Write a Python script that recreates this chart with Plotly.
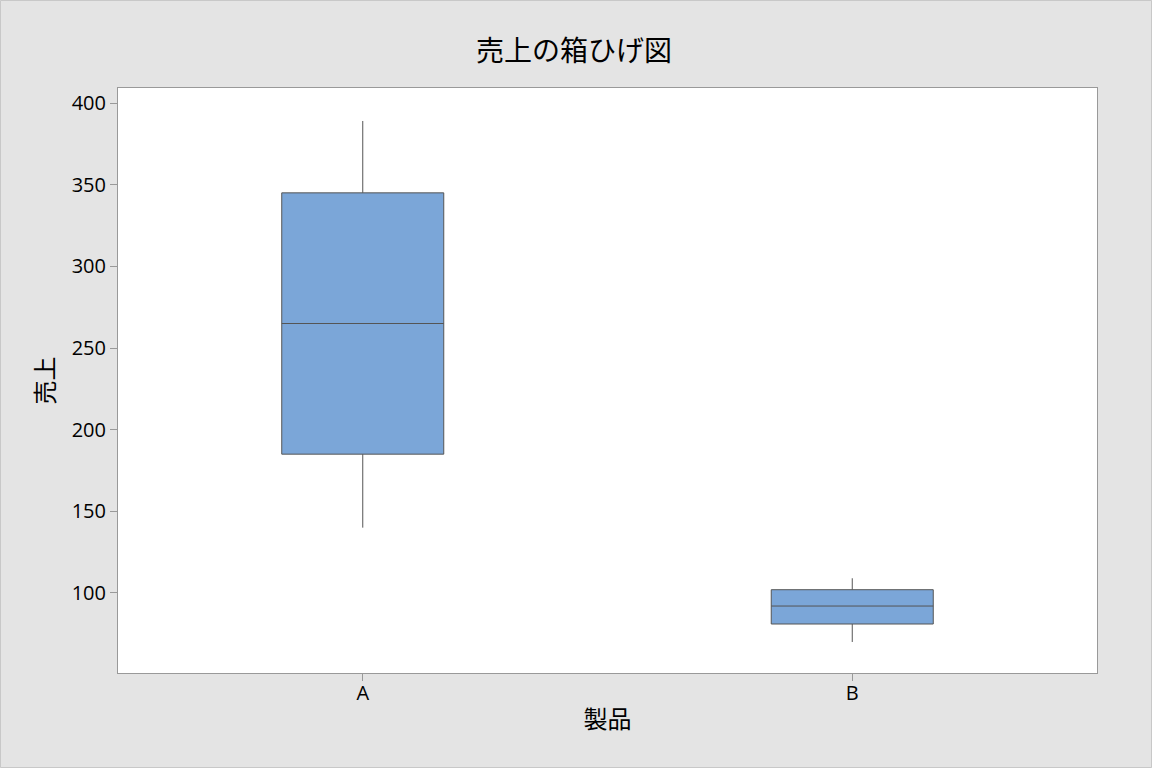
import plotly.graph_objects as go

products = ["A", "B"]
q1 = [185, 81]
median = [265, 92]
q3 = [345, 102]
lowerfence = [140, 70]
upperfence = [389, 109]

title_text = "売上の箱ひげ図"
x_title = "製品"
y_title = "売上"
y_ticks = [100, 150, 200, 250, 300, 350, 400]

W, H = 1152, 768
ML, MR, MT, MB = 118, 55, 88, 95
PW, PH = W - ML - MR, H - MT - MB

fig = go.Figure()
fig.add_trace(go.Box(
    x=products,
    q1=q1,
    median=median,
    q3=q3,
    lowerfence=lowerfence,
    upperfence=upperfence,
    boxpoints=False,
    whiskerwidth=0,
    width=0.331,
    fillcolor="#7BA6D8",
    line=dict(color="#555555", width=1),
    showlegend=False,
    hoverinfo="skip",
))

cjk = "Noto Sans CJK JP, sans-serif"
latin = "Open Sans, Noto Sans, sans-serif"

# thin outer frame around the whole figure
fig.add_shape(
    type="rect", xref="paper", yref="paper",
    x0=-(ML - 0.5) / PW, x1=1 + (MR - 0.5) / PW,
    y0=-(MB - 0.5) / PH, y1=1 + (MT - 0.5) / PH,
    line=dict(color="#C8C8C8", width=1), fillcolor="rgba(0,0,0,0)",
    layer="below",
)

fig.update_layout(
    width=W,
    height=H,
    paper_bgcolor="#E4E4E4",
    plot_bgcolor="#FFFFFF",
    margin=dict(l=ML, r=MR, t=MT, b=MB),
    font=dict(family=latin, color="#000000", size=20),
    title=dict(text=title_text, x=574 / W, xanchor="center", y=1 - 51 / H, yanchor="middle",
               font=dict(size=28, family=cjk, color="#000000")),
    xaxis=dict(
        title=dict(text=x_title, font=dict(size=24, family=cjk), standoff=6),
        range=[-0.5, 1.5],
        showgrid=False, zeroline=False,
        showline=True, linecolor="#999999", linewidth=1, mirror=True,
        ticks="outside", ticklen=7, tickcolor="#999999",
        ticklabelstandoff=-5,
        tickfont=dict(size=20, family=latin),
    ),
    yaxis=dict(
        title=dict(text=y_title, font=dict(size=24, family=cjk), standoff=10),
        range=[51.0, 409.2],
        tickvals=y_ticks,
        showgrid=False, zeroline=False,
        showline=True, linecolor="#999999", linewidth=1, mirror=True,
        ticks="outside", ticklen=7, tickcolor="#999999",
        tickfont=dict(size=20, family=latin),
    ),
)

fig.write_html(
    "out.html",
    config={"displayModeBar": False},
    post_script="document.body.style.margin='0';document.body.style.overflow='hidden';",
)
